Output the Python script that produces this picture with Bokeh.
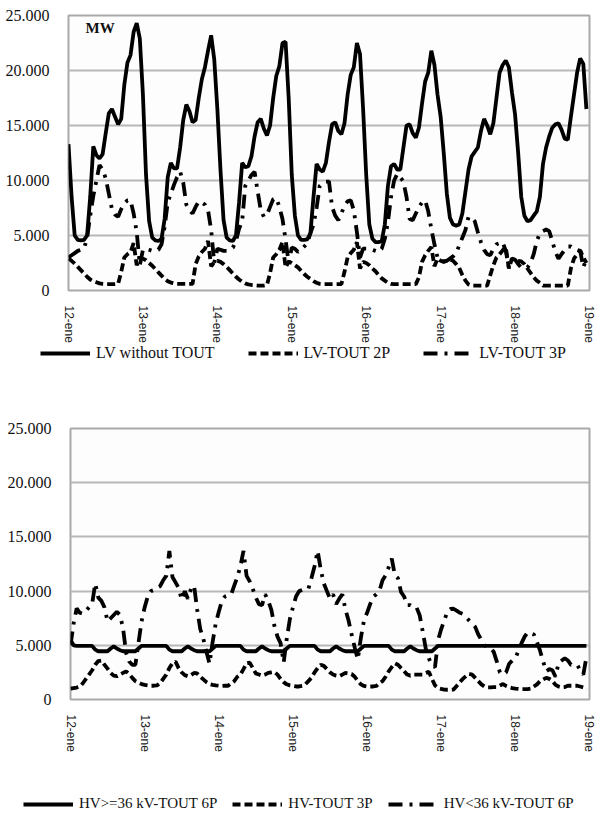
import math
from bokeh.plotting import figure
from bokeh.models import FixedTicker, Legend, LegendItem, Label, Range1d
from bokeh.layouts import column
from bokeh.embed import file_html
from bokeh.resources import INLINE

hours = list(range(168))
day_ticks = [0, 24, 48, 72, 96, 120, 144, 168]
day_labels = ["12-ene", "13-ene", "14-ene", "15-ene", "16-ene", "17-ene", "18-ene", "19-ene"]
y_ticks = [0, 5000, 10000, 15000, 20000, 25000]
y_labels = ["0", "5.000", "10.000", "15.000", "20.000", "25.000"]

# ---- top chart (LV) ----
lv_none = [
    13300, 8500, 5000, 4600, 4550, 4600, 5000, 8500, 13100, 12300, 12000, 12400, 14300, 16100, 16500, 15800, 15100, 15600, 18700, 20700, 21400, 23500, 24300, 22900,
    17800, 10500, 6300, 4800, 4550, 4500, 4700, 6500, 10300, 11600, 11100, 11100, 13000, 15500, 16900, 16300, 15300, 15500, 17500, 19200, 20300, 21800, 23200, 21000,
    16500, 11000, 6400, 4800, 4550, 4500, 5000, 8000, 11600, 11200, 11300, 12200, 14000, 15300, 15600, 14700, 14100, 15000, 17500, 19500, 20400, 22500, 22600, 17500,
    10500, 6800, 5000, 4600, 4600, 4650, 5200, 8500, 11500, 11000, 10800, 11600, 13500, 15100, 15300, 14500, 14200, 15200, 17800, 19600, 20300, 22500, 21500, 16500,
    10500, 6000, 4700, 4400, 4400, 4500, 6000, 9500, 11300, 11500, 11000, 11000, 13000, 15000, 15100, 14300, 13900, 14800, 17000, 19000, 19800, 21800, 20500, 17800,
    15800, 12500, 8800, 6600, 6000, 5900, 6000, 7000, 9000, 11000, 12200, 12600, 13000, 14500, 15600, 15000, 14200, 15200, 17500, 19800, 20500, 20900, 20300, 18000,
    16000, 12500, 8500, 6800, 6300, 6400, 6800, 7200, 8500, 11500, 13000, 14000, 14800, 15100, 15200, 14600, 13800, 13700, 15800, 17800, 19800, 21100, 20600, 16500,
]
lv_2p = [
    2900, 2700, 2450, 2150, 1850, 1550, 1250, 1000, 850, 750, 650, 600, 580, 580, 580, 580, 600, 1700, 3000, 3300, 3500, 4300, 2300, 2900,
    2900, 2750, 2500, 2250, 1950, 1650, 1350, 1050, 850, 720, 650, 600, 600, 600, 600, 600, 600, 2400, 3100, 3500, 3800, 4500, 2200, 2600,
    2700, 2600, 2400, 2150, 1850, 1550, 1250, 1000, 800, 650, 550, 500, 480, 450, 450, 450, 500, 1600, 3000, 3300, 3700, 4400, 2100, 2600,
    2500, 2300, 2100, 1800, 1500, 1250, 1050, 850, 700, 600, 580, 580, 580, 580, 580, 580, 580, 1700, 3000, 3400, 3700, 4400, 2000, 2600,
    2500, 2300, 2000, 1750, 1400, 1100, 900, 700, 600, 580, 580, 580, 580, 580, 580, 580, 580, 1200, 2600, 3200, 3600, 3950, 2200, 2900,
    2700, 2650, 2700, 2800, 2700, 2400, 2050, 1400, 900, 550, 440, 440, 440, 440, 440, 440, 1400, 2300, 3000, 3300, 3650, 3950, 2000, 2900,
    2750, 2700, 2650, 2400, 2000, 1600, 1200, 900, 700, 450, 450, 450, 450, 450, 450, 450, 450, 450, 2000, 2900, 3300, 3650, 3000, 2500,
]
lv_3p = [
    3000, 3200, 3400, 3600, 3700, 3800, 4800, 6800, 8600, 10000, 11400, 11000, 10200, 8800, 7400, 6900, 6700, 7400, 7900, 8200, 8200, 7000, 5300, 2300,
    3700, 3800, 3700, 3600, 3600, 3700, 4200, 5800, 8000, 8800, 9600, 10300, 10800, 9800, 7800, 7300, 7000, 7600, 8100, 8000, 7800, 7300, 5500, 2500,
    3800, 3700, 3600, 3600, 3700, 3900, 4500, 5600, 6300, 9500, 10000, 10500, 10800, 9000, 7300, 6700, 6900, 7600, 8300, 8400, 7600, 6500, 4600, 2500,
    3900, 3800, 3500, 3700, 4000, 4300, 5200, 6000, 7500, 9500, 9800, 9900, 9900, 7600, 6800, 6400, 7000, 7750, 8100, 8200, 7300, 5300, 3000, 3800,
    3800, 3800, 3700, 3600, 3500, 3800, 4700, 6200, 8500, 10000, 10600, 10300, 9900, 8500, 6500, 6400, 7000, 7600, 8000, 8200, 7200, 5600, 4200, 3000,
    2700, 2600, 2700, 2900, 3100, 3400, 4100, 4800, 5500, 6700, 6600, 6300, 5300, 4400, 3700, 3300, 3200, 3800, 4200, 4300, 4400, 3600, 2100, 2900,
    2800, 2400, 2100, 2000, 2100, 2500, 3300, 4500, 5200, 5400, 5550, 5400, 4500, 3500, 2900, 3300, 3700, 4000, 4000, 3800, 3700, 3600, 2100, 2900,
]

# ---- bottom chart (HV) ----
hv_ge36_6p = [
    5500, 5000, 4950, 4950, 4950, 4950, 4950, 4950, 4600, 4450, 4450, 4450, 4450, 4700, 4900, 4700, 4550, 4450, 4450, 4450, 4450, 4450, 4700, 4950,
    4950, 4950, 4950, 4950, 4950, 4950, 4950, 4950, 4600, 4450, 4450, 4450, 4450, 4700, 4900, 4700, 4550, 4450, 4450, 4450, 4450, 4450, 4700, 4950,
    4950, 4950, 4950, 4950, 4950, 4950, 4950, 4950, 4600, 4450, 4450, 4450, 4450, 4700, 4900, 4700, 4550, 4450, 4450, 4450, 4450, 4450, 4700, 4950,
    4950, 4950, 4950, 4950, 4950, 4950, 4950, 4950, 4600, 4450, 4450, 4450, 4450, 4700, 4900, 4700, 4550, 4450, 4450, 4450, 4450, 4450, 4700, 4950,
    4950, 4950, 4950, 4950, 4950, 4950, 4950, 4950, 4600, 4450, 4450, 4450, 4450, 4700, 4900, 4700, 4550, 4450, 4450, 4450, 4450, 4450, 4700, 4950,
    4950, 4950, 4950, 4950, 4950, 4950, 4950, 4950, 4950, 4950, 4950, 4950, 4950, 4950, 4950, 4950, 4950, 4950, 4950, 4950, 4950, 4950, 4950, 4950,
    4950, 4950, 4950, 4950, 4950, 4950, 4950, 4950, 4950, 4950, 4950, 4950, 4950, 4950, 4950, 4950, 4950, 4950, 4950, 4950, 4950, 4950, 4950, 4950,
]
hv_3p = [
    1000, 1050, 1100, 1200, 1500, 1900, 2300, 2700, 3200, 3550, 3600, 3200, 2850, 2450, 2200, 2150, 2300, 2450, 2600, 2350, 2000, 1700, 1550, 1420,
    1350, 1300, 1270, 1270, 1300, 1500, 1900, 2300, 2900, 3350, 3500, 2900, 2500, 2250, 2150, 2250, 2450, 2400, 2100, 1850, 1600, 1420, 1350, 1300,
    1270, 1250, 1270, 1270, 1500, 1700, 2100, 2300, 2800, 3350, 3400, 2900, 2400, 2300, 2200, 2300, 2450, 2500, 2550, 2300, 1900, 1600, 1400, 1300,
    1250, 1200, 1200, 1250, 1400, 1700, 2000, 2500, 2900, 3200, 3100, 2800, 2500, 2300, 2200, 2150, 2300, 2450, 2400, 2350, 2100, 1700, 1400, 1250,
    1200, 1200, 1200, 1250, 1500, 1700, 2100, 2600, 3000, 3340, 3200, 2900, 2600, 2300, 2200, 2300, 2300, 2300, 2300, 2450, 2550, 1900, 1300, 1050,
    980, 920, 900, 900, 920, 1250, 1600, 1900, 2150, 2360, 2300, 2000, 1700, 1400, 1200, 1120, 1120, 1150, 1150, 1300, 1420, 1250, 1120, 1050,
    1000, 980, 950, 950, 950, 1000, 1200, 1400, 1700, 1850, 2000, 1900, 1700, 1350, 1200, 1120, 1150, 1270, 1270, 1270, 1270, 1200, 1120, 890,
]
hv_lt36_6p = [
    5000, 7000, 8400, 8000, 7900, 8200, 8500, 8800, 10700, 9400, 9100, 8500, 7200, 7500, 7800, 8100, 7800, 6600, 4300, 3500, 3200, 3200, 5200, 7200,
    8500, 9500, 10000, 10100, 10300, 10450, 11000, 11400, 13700, 11300, 10800, 10300, 9200, 10000, 9300, 10200, 10500, 8300, 6500, 5600, 4400, 3300, 5300, 7000,
    8100, 9100, 9500, 9600, 9700, 10500, 11300, 12300, 13700, 11400, 10900, 10200, 9400, 8800, 8700, 9700, 9100, 8300, 6800, 5800, 5200, 3400, 5600, 7400,
    8500, 9500, 10000, 10100, 10100, 10200, 11200, 12300, 13700, 12000, 10700, 10000, 9300, 9700, 8800, 9300, 9700, 8300, 7300, 6000, 4800, 3700, 5700, 7300,
    8000, 8800, 9500, 9700, 10000, 11000, 11450, 12200, 13000, 11450, 11200, 9900, 9500, 8700, 8700, 8500, 8500, 7800, 6300, 4700, 3800, 3100, 3000, 5500,
    6500, 7300, 8100, 8350, 8370, 8200, 8000, 7900, 7600, 7300, 7000, 6700, 6000, 5500, 5000, 4800, 4700, 4400, 3500, 2500, 2300, 2500, 3300, 3600,
    3800, 4500, 5200, 5800, 6200, 6100, 6000, 5300, 4500, 3500, 2600, 2800, 2700, 2100, 3400, 3600, 3800, 3600, 3200, 3200, 3200, 2700, 2300, 3900,
]

top_names = ["LV without TOUT", "LV-TOUT 2P", "LV-TOUT 3P"]
bottom_names = ["HV>=36 kV-TOUT 6P", "HV-TOUT 3P", "HV<36 kV-TOUT 6P"]

SERIF = "Liberation Serif"
SANS = "Liberation Sans"
LW = 3.8
STYLES = [dict(line_color="black", line_width=LW),
          dict(line_color="black", line_width=LW, line_dash="8 4"),
          dict(line_color="black", line_width=LW, line_dash="14 7 3 7")]


def make_fig(height, b_top, b_bottom, b_left):
    p = figure(width=595, height=height, x_range=Range1d(0, 168), y_range=Range1d(0, 25000),
               output_backend="svg", toolbar_location=None,
               min_border_left=b_left, min_border_right=6,
               min_border_top=b_top, min_border_bottom=b_bottom)
    p.frame_align = False
    p.background_fill_color = "#fdfdfd"
    p.border_fill_color = "white"
    p.outline_line_color = "#a9a9a9"
    p.outline_line_width = 2
    p.xgrid.visible = False
    p.ygrid.grid_line_color = "#b8b8b8"
    p.ygrid.grid_line_width = 2
    p.xaxis.ticker = FixedTicker(ticks=day_ticks)
    p.xaxis.major_label_overrides = {t: l for t, l in zip(day_ticks, day_labels)}
    p.xaxis.major_label_orientation = -math.pi / 2
    p.xaxis.major_label_text_font = SANS
    p.xaxis.major_label_text_font_size = "12px"
    p.xaxis.major_label_text_color = "#222222"
    p.xaxis.major_label_standoff = 9
    p.yaxis.ticker = FixedTicker(ticks=y_ticks)
    p.yaxis.major_label_overrides = {t: l for t, l in zip(y_ticks, y_labels)}
    p.yaxis.major_label_text_font = SERIF
    p.yaxis.major_label_text_font_size = "16px"
    p.yaxis.major_label_text_color = "#111111"
    p.yaxis.major_label_standoff = 13
    for ax in (p.xaxis, p.yaxis):
        ax.axis_line_color = None
        ax.major_tick_line_color = None
        ax.minor_tick_line_color = None
    return p


def legend_fig(height, names, series, loc, spacing, font_size):
    # legend strip: the series are drawn far outside its (0..1) range, only the legend shows
    q = figure(width=595, height=height, x_range=Range1d(0, 1), y_range=Range1d(0, 1),
               x_axis_type=None, y_axis_type=None, output_backend="svg",
               toolbar_location=None, min_border=0)
    q.frame_align = False
    q.outline_line_color = None
    q.background_fill_color = "white"
    q.border_fill_color = "white"
    items = []
    for name, ys, st in zip(names, series, STYLES):
        r = q.line(hours, ys, **st)
        items.append(LegendItem(label=name, renderers=[r]))
    lg = Legend(items=items, orientation="horizontal", location=loc)
    lg.border_line_color = None
    lg.background_fill_alpha = 0
    lg.padding = 0
    lg.margin = 0
    lg.spacing = spacing
    lg.glyph_width = 50
    lg.glyph_height = 16
    lg.label_height = 16
    lg.label_standoff = 6
    lg.label_text_font = SERIF
    lg.label_text_font_size = font_size
    lg.label_text_color = "#111111"
    q.add_layout(lg)
    return q


# top chart
top_series = [lv_none, lv_2p, lv_3p]
p1 = make_fig(345, 15, 45, 68)
for ys, st in zip(top_series, STYLES):
    p1.line(hours, ys, **st)
p1.add_layout(Label(x=5.5, y=23100, text="MW", text_font=SERIF, text_font_style="bold",
                    text_font_size="15px", text_color="#111111"))
l1 = legend_fig(35, top_names, top_series, (40, 18), 33, "16px")

# bottom chart
bottom_series = [hv_ge36_6p, hv_3p, hv_lt36_6p]
p2 = make_fig(374, 48, 45, 70)
for ys, st in zip(bottom_series, STYLES):
    p2.line(hours, ys, **st)
l2 = legend_fig(62, bottom_names, bottom_series, (23, 4), 15, "15px")

layout = column(p1, l1, p2, l2, spacing=0)
open("out.html", "w").write(file_html(layout, INLINE))
